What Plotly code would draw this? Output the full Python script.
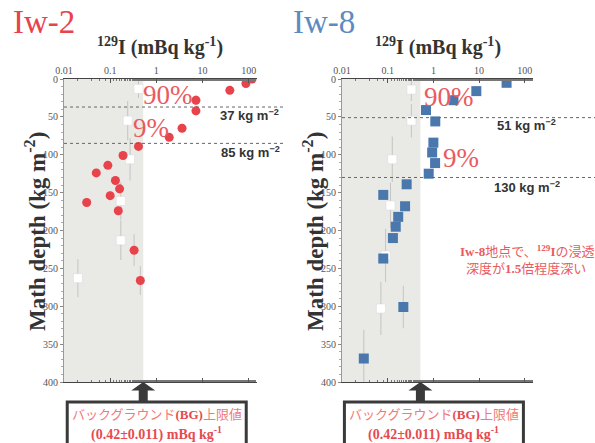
import math
import plotly.graph_objects as go

W, H = 595, 443

# ---------------- data ----------------
# Iw-2 (left): detected values (red circles)
iw2_I = [118, 87, 39, 7.2, 7.2, 3.6, 1.9, 0.41, 0.19, 0.089, 0.050, 0.13, 0.16, 0.10, 0.031, 0.15, 0.33, 0.45]
iw2_depth = [0, 6, 15, 28, 42, 65, 77, 89, 101, 114, 124, 134, 145, 154, 163, 174, 226, 266]
iw2_err = [1, 2, 3, 7, 6, 4, 4, 5, 5, 5, 5, 6, 6, 6, 6, 6, 21, 19]
# Iw-2 background-level values (white squares)
iw2_bg_I = [0.41, 0.24, 0.27, 0.17, 0.17, 0.020]
iw2_bg_depth = [13, 55, 106, 161, 213, 263]
iw2_bg_err = [12, 26, 28, 25, 26, 25]

# Iw-8 (right): detected values (blue squares)
iw8_I = [40, 8.7, 2.75, 0.69, 1.1, 1.0, 0.94, 1.09, 0.79, 0.26, 0.08, 0.24, 0.17, 0.15, 0.13, 0.08, 0.22, 0.030]
iw8_depth = [5, 16, 28, 41, 56, 84, 97, 111, 125, 139, 153, 168, 182, 195, 210, 237, 301, 369]
iw8_err = [3, 3, 3, 3, 3, 3, 3, 3, 4, 5, 5, 5, 5, 5, 5, 5, 28, 38]
# Iw-8 background-level values (white squares)
iw8_bg_I = [0.33, 0.33, 0.126, 0.115, 0.09, 0.071]
iw8_bg_depth = [14, 55, 106, 167, 233, 303]
iw8_bg_err = [15, 22, 30, 30, 35, 35]

# reference depths (kg m-2)
iw2_lines = [37, 85]
iw8_lines = [51, 130]
bg_limit = 0.42
bg_shade_edge = 0.52

x_ticks = [0.01, 0.1, 1, 10, 100]
x_ticktext = ["0.01", "0.1", "1", "10", "100"]
y_ticks = [0, 50, 100, 150, 200, 250, 300, 350, 400]

# ---------------- style ----------------
RED = "#e8424b"
BLUE = "#4a78ad"
TXTRED = "#ea5a5f"
DARK = "#333333"
SERIF = "Liberation Serif, DejaVu Serif, serif"
SERIF_JP = "Liberation Serif, Noto Sans CJK JP, serif"
SANS = "Liberation Sans, Arial, sans-serif"

def P(x):
    return x / W

def Q(y):
    return 1 - y / H

xr = [-2, 2.18]
dom_l = [P(64), P(257)]
dom_r = [P(342), P(533)]
ydom = [Q(382), Q(79)]

fig = go.Figure()

def add_panel(xa, ya, I, d, e, bgI, bgd, bge, color, symbol, size):
    fig.add_trace(go.Scatter(
        x=bgI, y=bgd, mode="markers", xaxis=xa, yaxis=ya,
        marker=dict(symbol="square", size=9, color="white", line=dict(color="#d8d8d8", width=0.5)),
        error_y=dict(type="data", array=bge, color="#c4c4c4", thickness=1, width=0),
        showlegend=False, hoverinfo="skip"))
    fig.add_trace(go.Scatter(
        x=I, y=d, mode="markers", xaxis=xa, yaxis=ya,
        marker=dict(symbol=symbol, size=size, color=color),
        error_y=dict(type="data", array=e, color="#c4c4c4", thickness=1, width=0),
        showlegend=False, hoverinfo="skip"))

add_panel("x", "y", iw2_I, iw2_depth, iw2_err, iw2_bg_I, iw2_bg_depth, iw2_bg_err, RED, "circle", 9)
add_panel("x2", "y2", iw8_I, iw8_depth, iw8_err, iw8_bg_I, iw8_bg_depth, iw8_bg_err, BLUE, "square", 10)

xaxis_common = dict(
    type="log", range=xr, side="top", tickvals=x_ticks, ticktext=x_ticktext,
    ticks="inside", ticklen=4, tickcolor="#555", showline=True, linecolor="#444", linewidth=1,
    mirror="ticks", showgrid=False, zeroline=False,
    tickfont=dict(family=SERIF, size=10, color="#555"),
    minor=dict(ticks="inside", ticklen=2, tickcolor="#777", showgrid=False),
)
yaxis_common = dict(
    range=[400, 0], tickvals=y_ticks, ticks="outside", ticklen=3, tickcolor="#888",
    showline=True, linecolor="#999", linewidth=1, showgrid=False, zeroline=False,
    tickfont=dict(family=SERIF, size=10, color="#555"),
    minor=dict(dtick=10, ticks="outside", ticklen=2, tickcolor="#aaa", showgrid=False),
)

fig.update_layout(
    width=W, height=H, margin=dict(l=0, r=0, t=0, b=0, autoexpand=False),
    paper_bgcolor="white", plot_bgcolor="white",
    xaxis=dict(domain=dom_l, anchor="y", **xaxis_common),
    yaxis=dict(domain=ydom, anchor="x", **yaxis_common),
    xaxis2=dict(domain=dom_r, anchor="y2", **xaxis_common),
    yaxis2=dict(domain=ydom, anchor="x2", **yaxis_common),
)

def frac(v):
    return (math.log10(v) - xr[0]) / (xr[1] - xr[0])

shapes = []
annots = []

def note(xc, yc, text, font, **kw):
    d = dict(x=P(xc), y=Q(yc), xref="paper", yref="paper", showarrow=False,
             xanchor="center", yanchor="middle", text=text, font=font)
    d.update(kw)
    annots.append(d)

panels = [
    ("x", "y", dom_l, iw2_lines, 1.135),
    ("x2", "y2", dom_r, iw8_lines, 1.33),
]
for xa, ya, dom, lines, ext in panels:
    # background shading
    shapes.append(dict(type="rect", xref=xa + " domain", yref=ya + " domain",
                       x0=0, x1=frac(bg_shade_edge), y0=0, y1=1,
                       fillcolor="#e9e9e5", line=dict(width=0), layer="below"))
    for lv in lines:
        shapes.append(dict(type="line", xref=xa + " domain", yref=ya,
                           x0=0, x1=ext, y0=lv, y1=lv,
                           line=dict(color="#666", width=1, dash="dot")))
    # arrow + box
    cx = dom[0] + frac(bg_shade_edge) * (dom[1] - dom[0])
    cxp = cx * W
    hw, sw = 12, 4.5
    pts = [(cxp, 382), (cxp + hw, 390.5), (cxp + sw, 390.5), (cxp + sw, 402),
           (cxp - sw, 402), (cxp - sw, 390.5), (cxp - hw, 390.5)]
    path = "M " + " L ".join(f"{P(a):.5f},{Q(b):.5f}" for a, b in pts) + " Z"
    shapes.append(dict(type="path", xref="paper", yref="paper", path=path,
                       fillcolor="#3a3a3a", line=dict(width=0)))
    bx0, bx1 = cxp - 76, cxp + 103
    shapes.append(dict(type="rect", xref="paper", yref="paper",
                       x0=P(bx0), x1=P(bx1), y0=Q(446), y1=Q(402),
                       fillcolor="white", line=dict(color="#3a3a3a", width=3)))
    bcx = (bx0 + bx1) / 2
    note(bcx, 414,
         "<span style='color:#f07a7a'>バックグラウンド</span><b>(BG)</b><span style='color:#f07a7a'>上限値</span>",
         dict(family=SERIF_JP, size=13, color="#e64a50"))
    note(bcx, 433, f"<b>({bg_limit}±0.011) mBq kg<sup>-1</sup></b>",
         dict(family=SERIF, size=14, color="#e64a50"))

# titles
note(11, 22, "Iw-2", dict(family=SERIF, size=33, color=RED), xanchor="left")
note(291, 22, "Iw-8", dict(family=SERIF, size=33, color="#5d8bbf"), xanchor="left")
for xc in (160, 438):
    note(xc, 47, "<b><sup>129</sup>I (mBq kg<sup>-1</sup>)</b>", dict(family=SERIF, size=20, color=DARK))
for xc in (35, 313):
    note(xc, 232, "<b>Math depth (kg m<sup>-2</sup>)</b>", dict(family=SERIF, size=23, color=DARK),
         textangle=-90)

# percentages
for xc, yc, t in [(168, 95, "90%"), (151, 128, "9%"), (449, 97, "90%"), (461, 158, "9%")]:
    note(xc, yc, t, dict(family=SERIF, size=27, color=TXTRED))

# depth labels
for xc, yc, v in [(249, 115, iw2_lines[0]), (250, 152, iw2_lines[1]),
                  (526, 125, iw8_lines[0]), (527, 187, iw8_lines[1])]:
    note(xc, yc, f"<b>{v} kg m<sup>−2</sup></b>", dict(family=SANS, size=13, color=DARK))

# note
note(527, 251, "<b>Iw-8</b>地点で、<b><sup>129</sup>I</b>の浸透", dict(family=SERIF_JP, size=13, color=TXTRED))
note(526, 268, "深度が<b>1.5</b>倍程度深い", dict(family=SERIF_JP, size=13, color=TXTRED))

fig.update_layout(shapes=shapes, annotations=annots)
fig.write_html("out.html")
